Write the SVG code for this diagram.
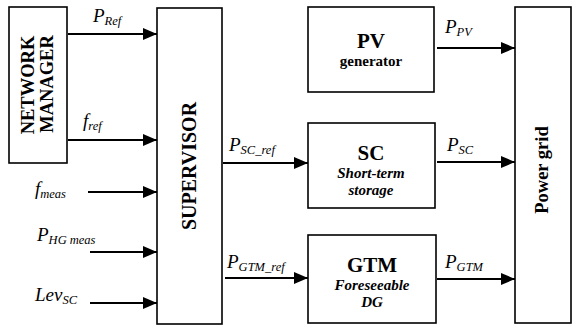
<svg xmlns="http://www.w3.org/2000/svg" width="572" height="327" viewBox="0 0 572 327" font-family="'Liberation Serif', 'DejaVu Serif', serif">
<style>
.box{fill:#fff;stroke:#000;stroke-width:1.6}
.con{stroke:#000;stroke-width:2.2;fill:none}
text{font-family:'Liberation Serif','DejaVu Serif',serif;fill:#000}
.bt{font-weight:bold;text-anchor:middle}
.ttl{font-size:21px}
.sm{font-size:15px}
.it{font-style:italic}
.lab{font-style:italic;font-size:19px}
.sub{font-size:12.5px}
</style>
<defs>
<marker id="ah" markerUnits="userSpaceOnUse" markerWidth="14" markerHeight="12" refX="14" refY="6" orient="auto">
<path d="M0,0 L14,6 L0,12 z" fill="#000"/>
</marker>
</defs>
<g id="network-manager">
<rect class="box" x="9" y="7" width="58" height="156"/>
<text class="bt" font-size="18.5" transform="translate(34,85) rotate(-90)">NETWORK</text>
<text class="bt" font-size="18.5" transform="translate(53,84) rotate(-90)">MANAGER</text>
</g>
<g id="supervisor">
<rect class="box" x="157" y="8" width="65" height="316"/>
<text class="bt" font-size="20" transform="translate(196,166) rotate(-90)">SUPERVISOR</text>
</g>
<g id="pv">
<rect class="box" x="308" y="7" width="126" height="85"/>
<text class="bt ttl" x="371" y="48">PV</text>
<text class="bt sm" x="371" y="66">generator</text>
</g>
<g id="sc">
<rect class="box" x="308" y="123" width="127" height="85"/>
<text class="bt ttl" x="371" y="160">SC</text>
<text class="bt sm it" x="371" y="178">Short-term</text>
<text class="bt sm it" x="371" y="195">storage</text>
</g>
<g id="gtm">
<rect class="box" x="308" y="235" width="128" height="88"/>
<text class="bt ttl" x="372" y="272">GTM</text>
<text class="bt sm it" x="372" y="290">Foreseeable</text>
<text class="bt sm it" x="372" y="307">DG</text>
</g>
<g id="power-grid">
<rect class="box" x="515" y="7" width="56" height="316"/>
<text class="bt" font-size="18.5" transform="translate(548,170) rotate(-90)">Power grid</text>
</g>
<g id="connectors">
<path class="con" d="M68,34 H157" marker-end="url(#ah)"/>
<path class="con" d="M68,140 H157" marker-end="url(#ah)"/>
<path class="con" d="M88,192 H157" marker-end="url(#ah)"/>
<path class="con" d="M90,252 H157" marker-end="url(#ah)"/>
<path class="con" d="M90,303 H157" marker-end="url(#ah)"/>
<path class="con" d="M223,163 H308" marker-end="url(#ah)"/>
<path class="con" d="M225,278 H308" marker-end="url(#ah)"/>
<path class="con" d="M437,48 H515" marker-end="url(#ah)"/>
<path class="con" d="M437,162 H515" marker-end="url(#ah)"/>
<path class="con" d="M437,279 H515" marker-end="url(#ah)"/>
<text class="lab" x="93" y="22">P<tspan class="sub" dy="3">Ref</tspan></text>
<text class="lab" x="83" y="127">f<tspan class="sub" dy="3">ref</tspan></text>
<text class="lab" x="35" y="195">f<tspan class="sub" dy="3">meas</tspan></text>
<text class="lab" x="37" y="241">P<tspan class="sub" dy="3">HG meas</tspan></text>
<text class="lab" x="35" y="301">Lev<tspan class="sub" dy="3">SC</tspan></text>
<text class="lab" x="229" y="151">P<tspan class="sub" dy="3">SC_ref</tspan></text>
<text class="lab" x="227" y="268">P<tspan class="sub" dy="3">GTM_ref</tspan></text>
<text class="lab" x="445" y="33">P<tspan class="sub" dy="3">PV</tspan></text>
<text class="lab" x="447" y="151">P<tspan class="sub" dy="3">SC</tspan></text>
<text class="lab" x="445" y="268">P<tspan class="sub" dy="3">GTM</tspan></text>
</g>
</svg>
